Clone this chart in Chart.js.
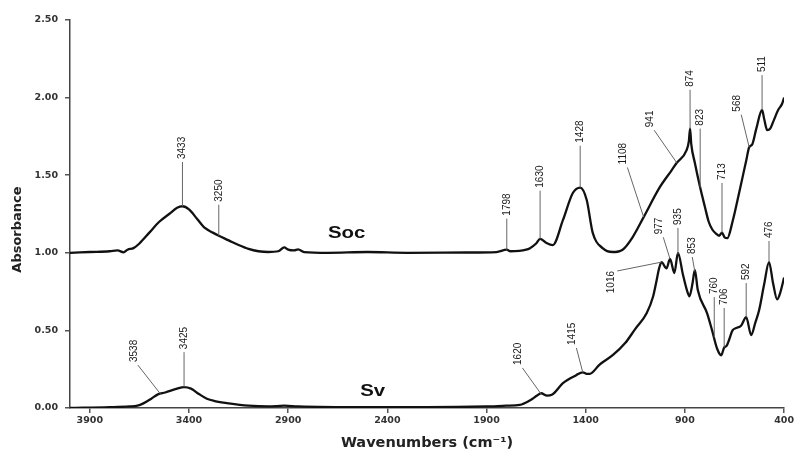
<!DOCTYPE html>
<html>
<head>
<meta charset="utf-8">
<script src="https://cdn.jsdelivr.net/npm/chart.js@4.4.0/dist/chart.umd.min.js"></script>
<style>
  body { margin: 0; background: #fff; }
</style>
</head>
<body>
<canvas id="ftir" width="796" height="456"></canvas>
<script>
// x ticks (wavenumbers, cm-1)
var xTicks = [3900, 3400, 2900, 2400, 1900, 1400, 900, 400];

// Soc spectrum
var socWave = [4000, 3900, 3800, 3760, 3730, 3710, 3680, 3650, 3600, 3550, 3500, 3460, 3433, 3400, 3360, 3320, 3280, 3250, 3200, 3150,
  3100, 3050, 3000, 2950, 2920, 2900, 2870, 2850, 2820, 2700, 2500, 2300, 2000, 1850, 1798, 1780, 1700, 1681, 1650, 1630,
  1600, 1566, 1515, 1465, 1428, 1395, 1365, 1315, 1264, 1214, 1164, 1108, 1028, 968, 941, 892, 880, 874, 868, 850,
  823, 800, 780, 762, 740, 727, 713, 700, 686, 660, 626, 590, 576, 560, 540, 511, 500, 485, 470, 450, 430, 410, 400];
var socAbs = [1.00, 1.005, 1.01, 1.015, 1.003, 1.02, 1.03, 1.06, 1.13, 1.20, 1.25, 1.29, 1.30, 1.28, 1.22, 1.16, 1.13, 1.11, 1.08, 1.05,
  1.025, 1.01, 1.005, 1.01, 1.035, 1.02, 1.015, 1.022, 1.005, 1.00, 1.005, 1.00, 1.002, 1.005, 1.02, 1.01, 1.02, 1.03, 1.06, 1.09,
  1.065, 1.05, 1.21, 1.385, 1.42, 1.34, 1.13, 1.03, 1.005, 1.02, 1.10, 1.23, 1.42, 1.53, 1.58, 1.66, 1.72, 1.80, 1.70, 1.58,
  1.42, 1.30, 1.20, 1.15, 1.12, 1.11, 1.13, 1.10, 1.095, 1.20, 1.39, 1.60, 1.68, 1.70, 1.80, 1.92, 1.86, 1.79, 1.80, 1.86, 1.92, 1.96, 2.00];

// Sv spectrum
var svWave = [4000, 3800, 3700, 3660, 3630, 3590, 3557, 3520, 3460, 3425, 3390, 3350, 3310, 3270, 3200, 3100, 3000, 2920, 2850, 2500,
  2200, 1900, 1800, 1732, 1680, 1645, 1625, 1595, 1571, 1515, 1450, 1415, 1395, 1380, 1330, 1264, 1200, 1150, 1093, 1060,
  1043, 1030, 1018, 993, 975, 953, 935, 910, 890, 877, 862, 850, 835, 788, 763, 737, 717, 702, 690, 677,
  660, 642, 617, 591, 566, 545, 526, 500, 476, 455, 435, 420, 400];
var svAbs = [0.00, 0.005, 0.01, 0.015, 0.03, 0.06, 0.088, 0.10, 0.125, 0.135, 0.125, 0.09, 0.06, 0.045, 0.03, 0.015, 0.01, 0.015, 0.01, 0.005,
  0.005, 0.01, 0.015, 0.02, 0.05, 0.08, 0.095, 0.08, 0.085, 0.16, 0.21, 0.23, 0.22, 0.22, 0.28, 0.34, 0.42, 0.51, 0.61, 0.72,
  0.82, 0.90, 0.94, 0.90, 0.96, 0.87, 1.00, 0.86, 0.76, 0.72, 0.80, 0.89, 0.76, 0.61, 0.50, 0.38, 0.34, 0.39, 0.40, 0.44,
  0.50, 0.515, 0.53, 0.585, 0.47, 0.55, 0.63, 0.80, 0.94, 0.80, 0.70, 0.74, 0.84];

// peak labels: point on the curve and the end of the leader line
var peakText = ['3433', '3250', '1798', '1630', '1428', '1108', '941', '874', '823', '713', '568', '511',
  '3538', '3425', '1620', '1415', '1016', '977', '935', '853', '760', '706', '592', '476'];
var peakWave = [3433, 3250, 1798, 1630, 1428, 1108, 941, 874, 823, 713, 576, 511,
  3545, 3425, 1625, 1415, 1018, 975, 935, 850, 752, 702, 591, 476];
var peakAbs = [1.30, 1.11, 1.02, 1.09, 1.42, 1.23, 1.58, 1.80, 1.42, 1.13, 1.68, 1.92,
  0.092, 0.135, 0.09, 0.23, 0.94, 0.96, 0.99, 0.88, 0.455, 0.39, 0.585, 0.94];
var tipWave = [3433, 3250, 1798, 1630, 1428, 1190, 1055, 874, 823, 713, 616, 511,
  3658, 3425, 1719, 1447, 1241, 1009, 935, 863, 752, 702, 591, 476];
var tipAbs = [1.585, 1.31, 1.22, 1.40, 1.69, 1.55, 1.79, 2.05, 1.80, 1.45, 1.89, 2.145,
  0.277, 0.36, 0.258, 0.387, 0.883, 1.10, 1.16, 0.973, 0.715, 0.644, 0.805, 1.076];
var leftLabels = ['1016'];

// curve names
var curveNames = ['Soc', 'Sv'];
var nameWave = [2605, 2474];
var nameAbs = [1.128, 0.11];

function toPoints(w, a) {
    var pts = [];
    for (var i = 0; i < w.length; i++) pts.push({ x: w[i], y: a[i] });
    return pts;
}

var peakPlugin = {
    id: 'peaks',
    afterDatasetsDraw: function (chart) {
        var ctx = chart.ctx;
        var xs = chart.scales.x, ys = chart.scales.y;
        ctx.save();
        ctx.strokeStyle = '#666';
        ctx.lineWidth = 1;
        ctx.fillStyle = '#1a1a1a';
        ctx.font = '10px "Liberation Sans", Arial, sans-serif';
        ctx.textBaseline = 'middle';
        for (var i = 0; i < peakText.length; i++) {
            var x0 = xs.getPixelForValue(peakWave[i]), y0 = ys.getPixelForValue(peakAbs[i]);
            var x1 = xs.getPixelForValue(tipWave[i]), y1 = ys.getPixelForValue(tipAbs[i]);
            ctx.beginPath();
            ctx.moveTo(x0, y0);
            ctx.lineTo(x1, y1);
            ctx.stroke();
            ctx.save();
            if (leftLabels.indexOf(peakText[i]) >= 0) {
                ctx.translate(x1 - 6, y1);
                ctx.rotate(-Math.PI / 2);
                ctx.textAlign = 'right';
            } else {
                var dx = x1 - x0;
                var shift = Math.abs(dx) > 3 ? (dx < 0 ? -4 : 4) : 0;
                ctx.translate(x1 + shift, y1 - 3);
                ctx.rotate(-Math.PI / 2);
                ctx.textAlign = 'left';
            }
            ctx.fillText(peakText[i], 0, 0);
            ctx.restore();
        }
        ctx.fillStyle = '#111';
        ctx.font = 'bold 17px "Liberation Sans", Arial, sans-serif';
        ctx.textAlign = 'center';
        for (var j = 0; j < curveNames.length; j++) {
            ctx.save();
            ctx.translate(xs.getPixelForValue(nameWave[j]), ys.getPixelForValue(nameAbs[j]));
            ctx.scale(1.2, 1);
            ctx.fillText(curveNames[j], 0, 0);
            ctx.restore();
        }
        // y axis title, a bit below the middle like the original
        ctx.fillStyle = '#222';
        ctx.font = 'bold 13px "DejaVu Sans", sans-serif';
        ctx.save();
        ctx.translate(18, ys.getPixelForValue(1.15));
        ctx.rotate(-Math.PI / 2);
        ctx.fillText('Absorbance', 0, 0);
        ctx.restore();
        ctx.restore();
    }
};

var tickFont = { family: 'DejaVu Sans', weight: 'bold', size: 9.5 };

new Chart(document.getElementById('ftir'), {
    type: 'line',
    data: {
        datasets: [{
            label: 'Soc',
            data: toPoints(socWave, socAbs),
            borderColor: '#111',
            borderWidth: 2.3,
            pointRadius: 0,
            cubicInterpolationMode: 'monotone',
            fill: false
        }, {
            label: 'Sv',
            data: toPoints(svWave, svAbs),
            borderColor: '#111',
            borderWidth: 2.3,
            pointRadius: 0,
            cubicInterpolationMode: 'monotone',
            fill: false
        }]
    },
    options: {
        responsive: false,
        animation: false,
        layout: { padding: { top: 20, right: 11, left: 0, bottom: 0 } },
        plugins: {
            legend: { display: false },
            tooltip: { enabled: false }
        },
        scales: {
            x: {
                type: 'linear',
                reverse: true,
                min: 400,
                max: 4000,
                afterBuildTicks: function (s) {
                    s.ticks = xTicks.map(function (v) { return { value: v }; });
                },
                afterFit: function (s) { s.height = 48; },
                ticks: {
                    color: '#333',
                    font: tickFont,
                    padding: 2,
                    maxRotation: 0,
                    autoSkip: false,
                    callback: function (v) { return String(v); }
                },
                grid: { drawOnChartArea: false, tickLength: 5, color: '#555', lineWidth: 1.5 },
                border: { color: '#444', width: 1.5 },
                title: {
                    display: true,
                    text: 'Wavenumbers (cm⁻¹)',
                    color: '#222',
                    font: { family: 'DejaVu Sans', weight: 'bold', size: 14.5 },
                    padding: { top: 0, bottom: 4 }
                }
            },
            y: {
                min: 0,
                max: 2.5,
                afterFit: function (s) { s.width = 70; },
                ticks: {
                    stepSize: 0.5,
                    color: '#333',
                    font: tickFont,
                    padding: 7,
                    callback: function (v) { return v.toFixed(2); }
                },
                grid: { drawOnChartArea: false, tickLength: 5, color: '#555', lineWidth: 1.5 },
                border: { color: '#444', width: 1.5 }
            }
        }
    },
    plugins: [peakPlugin]
});
</script>
</body>
</html>
